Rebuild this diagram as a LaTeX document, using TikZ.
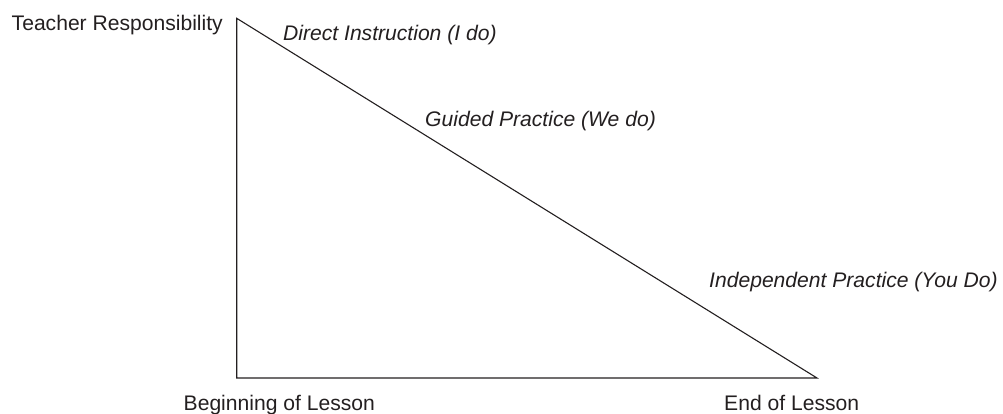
\documentclass[tikz,border=0pt]{standalone}
\usepackage{fontspec}
\setmainfont{Liberation Sans}
\definecolor{ink}{HTML}{231F20}
\begin{document}
\begin{tikzpicture}[x=1pt,y=-1pt,
  lbl/.style={inner sep=0pt,anchor=base west,text=ink,font=\fontsize{21.1}{24}\selectfont},
  ilbl/.style={lbl,font=\fontsize{21.1}{24}\selectfont\itshape},
  edge/.style={draw=ink,line width=1.1pt,line join=miter}]
\useasboundingbox (0,0) rectangle (1003,413);
\coordinate (top) at (236.7,18.3);
\coordinate (bl) at (236.7,378);
\coordinate (br) at (817,378);
\draw[edge] (top) -- (bl) -- (br) -- cycle;
\node[lbl] (teacher) at (11.5,30) {Teacher Responsibility};
\node[ilbl] (direct) at (283,40) {Direct Instruction (I do)};
\node[ilbl] (guided) at (425,126) {Guided Practice (We do)};
\node[ilbl] (indep) at (709,287) {Independent Practice (You Do)};
\node[lbl] (begin) at (183.5,410) {Beginning of Lesson};
\node[lbl] (end) at (724,410) {End of Lesson};
\end{tikzpicture}
\end{document}
